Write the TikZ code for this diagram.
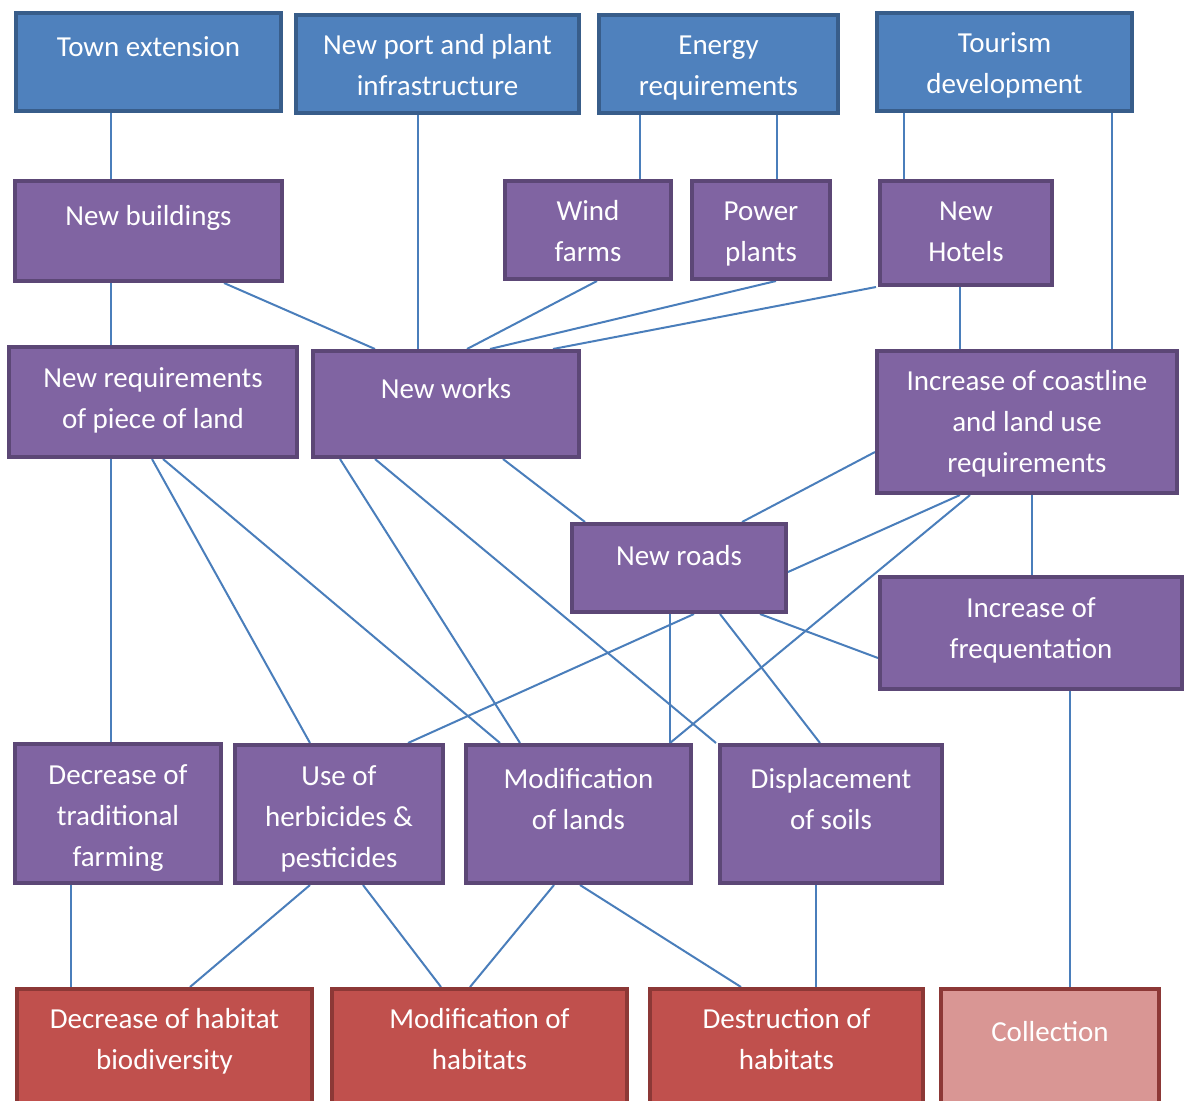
\documentclass[tikz,border=0pt]{standalone}
\usepackage{fontspec}
\setmainfont{Carlito}
\usepackage{xcolor}
\usetikzlibrary{backgrounds}

\definecolor{topFill}{HTML}{4F81BD}
\definecolor{topLine}{HTML}{385D8A}
\definecolor{midFill}{HTML}{8064A2}
\definecolor{midLine}{HTML}{5C4776}
\definecolor{endFill}{HTML}{C0504D}
\definecolor{endLine}{HTML}{8C3836}
\definecolor{softFill}{HTML}{D99694}
\definecolor{linkBlue}{HTML}{4A7EBB}

\tikzset{
	box/.style = {draw, line width = 4pt, inner sep = 0pt, text = white,
		font = \fontsize{29}{41}\selectfont},
	cause/.style = {box, fill = topFill, draw = topLine},
	action/.style = {box, fill = midFill, draw = midLine},
	impact/.style = {box, fill = endFill, draw = endLine},
	minor/.style = {box, fill = softFill, draw = endLine},
	link/.style = {draw = linkBlue, line width = 2pt}
}

\begin{document}
\begin{tikzpicture}[x = 1pt, y = -1pt]
					\clip (0,0) rectangle (1185,1100);
					\useasboundingbox (0,0) rectangle (1185,1100);

					% #1 name, #2 style, #3-#6 outer corners, #7 first baseline, #8 text
					\newcommand{\drawBox}[8]
					{
						\pgfmathsetmacro{\bw}{#5-#3-4}
						\pgfmathsetmacro{\bh}{#6-#4-4}
						\pgfmathsetmacro{\bt}{#7-2}
						\node [#2, anchor = north west] (#1) at (#3+2,#4+2)
							{\parbox[c][\bh pt][t]{\bw pt}{\centering\rule{0pt}{\bt pt}#8}};
					}

					\newcommand{\drawLink}[4]
					{
						\draw [link] (#1 -| #2,0) -- (#3 -| #4,0);
					}

					% causes
					\drawBox{town}{cause}{12}{9}{281}{111}{45}{Town extension}
					\drawBox{port}{cause}{292}{11}{579}{113}{41}{New port and plant\\infrastructure}
					\drawBox{energy}{cause}{595}{11}{838}{113}{41}{Energy\\requirements}
					\drawBox{tourism}{cause}{873}{9}{1132}{111}{41}{Tourism\\development}

					% actions
					\drawBox{buildings}{action}{11}{177}{282}{281}{46}{New buildings}
					\drawBox{wind}{action}{501}{177}{671}{279}{41}{Wind\\farms}
					\drawBox{power}{action}{688}{177}{830}{279}{41}{Power\\plants}
					\drawBox{hotels}{action}{876}{177}{1052}{285}{41}{New\\Hotels}
					\drawBox{land}{action}{5}{343}{297}{457}{42}{New requirements\\of piece of land}
					\drawBox{works}{action}{309}{347}{579}{457}{49}{New works}
					\drawBox{coast}{action}{873}{347}{1177}{493}{41}{Increase of coastline\\and land use\\requirements}
					\drawBox{roads}{action}{568}{520}{786}{612}{43}{New roads}
					\drawBox{freq}{action}{876}{573}{1182}{689}{42}{Increase of\\frequentation}
					\drawBox{farming}{action}{11}{740}{221}{883}{42}{Decrease of\\traditional\\farming}
					\drawBox{herb}{action}{231}{741}{443}{883}{42}{Use of\\herbicides \&\\pesticides}
					\drawBox{lands}{action}{462}{741}{691}{883}{45}{Modification\\of lands}
					\drawBox{soils}{action}{716}{741}{942}{883}{45}{Displacement\\of soils}

					% impacts
					\drawBox{biodiv}{impact}{13}{985}{312}{1120}{41}{Decrease of habitat\\biodiversity}
					\drawBox{modhab}{impact}{328}{985}{627}{1120}{41}{Modification of\\habitats}
					\drawBox{desthab}{impact}{646}{985}{923}{1120}{41}{Destruction of\\habitats}
					\drawBox{collect}{minor}{937}{985}{1159}{1120}{54}{Collection}

					\begin{scope}[on background layer]
						\drawLink{town.south}{111}{buildings.north}{111}
						\drawLink{port.south}{418}{works.north}{418}
						\drawLink{energy.south}{640}{wind.north}{640}
						\drawLink{energy.south}{777}{power.north}{777}
						\drawLink{tourism.south}{904}{hotels.north}{904}
						\drawLink{tourism.south}{1112}{coast.north}{1112}

						\drawLink{buildings.south}{111}{land.north}{111}
						\drawLink{buildings.south}{224}{works.north}{375}
						\drawLink{wind.south}{597}{works.north}{467}
						\drawLink{power.south}{776}{works.north}{490}
						\drawLink{hotels.south west}{876}{works.north}{553}
						\drawLink{hotels.south}{960}{coast.north}{960}

						\drawLink{land.south}{111}{farming.north}{111}
						\drawLink{land.south}{152}{herb.north}{310}
						\drawLink{land.south}{163}{lands.north}{500}
						\drawLink{works.south}{340}{lands.north}{520}
						\drawLink{works.south}{375}{soils.north west}{716}
						\drawLink{works.south}{503}{roads.north}{585}

						\draw [link] (coast.west |- 0,452) -- (roads.north -| 742,0);
						\draw [link] (coast.south -| 960,0) -- (roads.east |- 0,572);
						\drawLink{coast.south}{970}{lands.north}{670}
						\drawLink{coast.south}{1032}{freq.north}{1032}

						\drawLink{roads.south}{694}{herb.north}{408}
						\drawLink{roads.south}{670}{lands.north}{670}
						\drawLink{roads.south}{720}{soils.north}{820}
						\draw [link] (roads.south -| 760,0) -- (freq.west |- 0,658);
						\drawLink{freq.south}{1070}{collect.north}{1070}

						\drawLink{farming.south}{71}{biodiv.north}{71}
						\drawLink{herb.south}{310}{biodiv.north}{190}
						\drawLink{herb.south}{363}{modhab.north}{441}
						\drawLink{lands.south}{554}{modhab.north}{470}
						\drawLink{lands.south}{580}{desthab.north}{741}
						\drawLink{soils.south}{816}{desthab.north}{816}
					\end{scope}
				\end{tikzpicture}
\end{document}
